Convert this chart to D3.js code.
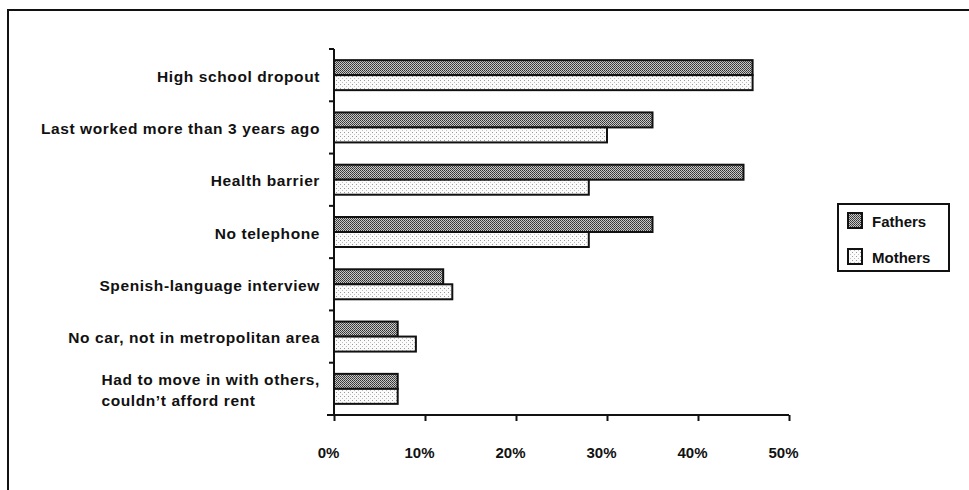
<!DOCTYPE html>
<html lang="en">
<head>
    <meta charset="UTF-8" />
    <title>Barriers to work - Fathers and Mothers</title>
    <script src="https://d3js.org/d3.v7.min.js"></script>
    <style>
        body {
            margin: 0;
            background: #fff;
            font-family: "Liberation Sans", Arial, sans-serif;
        }
        svg text {
            font-weight: bold;
            fill: #111;
        }
    </style>
</head>
<body>
    <svg id="chart" width="969" height="490"></svg>
    <script>
        // Data (percent)
        var categories = [
            "High school dropout",
            "Last worked more than 3 years ago",
            "Health barrier",
            "No telephone",
            "Spenish-language interview",
            "No car, not in metropolitan area",
            "Had to move in with others,|couldn\u2019t afford rent"
        ];
        var fathers = [46, 35, 45, 35, 12, 7, 7];
        var mothers = [46, 30, 28, 28, 13, 9, 7];
        var seriesNames = ["Fathers", "Mothers"];
        var xTicks = [0, 10, 20, 30, 40, 50];

        var w = 969, h = 490;
        var plotLeft = 334, plotRight = 789, plotTop = 49, plotBottom = 415;

        var svg = d3.select("#chart");

        // Stipple fills like the scanned original
        var defs = svg.append("defs");
        var pf = defs.append("pattern")
            .attr("id", "patFathers")
            .attr("width", 2).attr("height", 2)
            .attr("patternUnits", "userSpaceOnUse");
        pf.append("rect").attr("width", 2).attr("height", 2).attr("fill", "#c8c8c8");
        pf.append("rect").attr("width", 1).attr("height", 1).attr("fill", "#333");
        pf.append("rect").attr("x", 1).attr("y", 1).attr("width", 1).attr("height", 1).attr("fill", "#4a4a4a");

        var pm = defs.append("pattern")
            .attr("id", "patMothers")
            .attr("width", 4).attr("height", 4)
            .attr("patternUnits", "userSpaceOnUse");
        pm.append("rect").attr("width", 4).attr("height", 4).attr("fill", "#fbfbfb");
        pm.append("rect").attr("width", 1).attr("height", 1).attr("fill", "#9a9a9a");
        pm.append("rect").attr("x", 2).attr("y", 2).attr("width", 1).attr("height", 1).attr("fill", "#c0c0c0");

        var fills = ["url(#patFathers)", "url(#patMothers)"];

        // Frame (only top and left edges survive in the scan)
        svg.append("path")
            .attr("d", "M8," + h + " V10 H" + w)
            .attr("fill", "none")
            .attr("stroke", "#111")
            .attr("stroke-width", 2);

        var xScale = d3.scaleLinear().domain([0, 50]).range([plotLeft, plotRight]);
        var yScale = d3.scaleBand().domain(d3.range(categories.length)).range([plotTop, plotBottom]);
        var barH = 15;

        // Bars
        var rows = svg.selectAll("g.row")
            .data(categories)
            .enter()
            .append("g")
            .attr("class", "row");

        rows.each(function (c, i) {
            var g = d3.select(this);
            var mid = yScale(i) + yScale.bandwidth() / 2;
            [fathers[i], mothers[i]].forEach(function (v, s) {
                g.append("rect")
                    .attr("x", xScale(0))
                    .attr("y", mid - barH + s * barH)
                    .attr("width", xScale(v) - xScale(0))
                    .attr("height", barH)
                    .attr("fill", fills[s])
                    .attr("stroke", "#111")
                    .attr("stroke-width", 2);
            });

            // Category label, lines left-aligned, block right-aligned
            var lines = c.split("|");
            var t = g.append("text")
                .style("font-size", "15.5px")
                .style("letter-spacing", "0.6px");
            lines.forEach(function (ln, k) {
                t.append("tspan")
                    .attr("y", mid + 6.5 + (k - (lines.length - 1) / 2) * 20.5)
                    .text(ln);
            });
            var maxW = 0;
            t.selectAll("tspan").each(function () {
                maxW = Math.max(maxW, this.getComputedTextLength());
            });
            t.selectAll("tspan").attr("x", 320 - maxW);
        });

        // Y axis with ticks between categories
        var yTicks = d3.range(categories.length + 1).map(function (i) {
            return i < categories.length ? yScale(i) : plotBottom;
        });
        svg.append("line")
            .attr("x1", plotLeft).attr("x2", plotLeft)
            .attr("y1", plotTop).attr("y2", plotBottom)
            .attr("stroke", "#111").attr("stroke-width", 2);
        svg.selectAll("line.ytick")
            .data(yTicks)
            .enter()
            .append("line")
            .attr("class", "ytick")
            .attr("x1", plotLeft - 5).attr("x2", plotLeft)
            .attr("y1", d => d).attr("y2", d => d)
            .attr("stroke", "#111").attr("stroke-width", 2);

        // X axis
        var xAxis = d3.axisBottom(xScale)
            .tickValues(xTicks)
            .tickSize(6)
            .tickSizeOuter(0)
            .tickFormat(d => d + "%");
        var gx = svg.append("g")
            .attr("transform", "translate(0," + plotBottom + ")")
            .call(xAxis);
        gx.select(".domain")
            .attr("d", "M" + (plotLeft - 7) + ",0H" + plotRight)
            .attr("stroke", "#111").attr("stroke-width", 2);
        gx.selectAll(".tick line").attr("stroke", "#111").attr("stroke-width", 2);
        gx.selectAll(".tick text")
            .attr("y", 32)
            .attr("dx", -6)
            .attr("fill", "#111")
            .style("font-size", "15px")
            .style("font-family", "'Liberation Sans', Arial, sans-serif")
            .style("font-weight", "bold");

        // Legend
        var legend = svg.append("g");
        legend.append("rect")
            .attr("x", 838).attr("y", 204)
            .attr("width", 111).attr("height", 67)
            .attr("fill", "#fff")
            .attr("stroke", "#111").attr("stroke-width", 2);
        seriesNames.forEach(function (name, s) {
            var yy = 213 + s * 36;
            legend.append("rect")
                .attr("x", 848).attr("y", yy)
                .attr("width", 14).attr("height", 15)
                .attr("fill", fills[s])
                .attr("stroke", "#111").attr("stroke-width", 2);
            legend.append("text")
                .attr("x", 872).attr("y", yy + 14)
                .style("font-size", "15px")
                .text(name);
        });
    </script>
</body>
</html>
